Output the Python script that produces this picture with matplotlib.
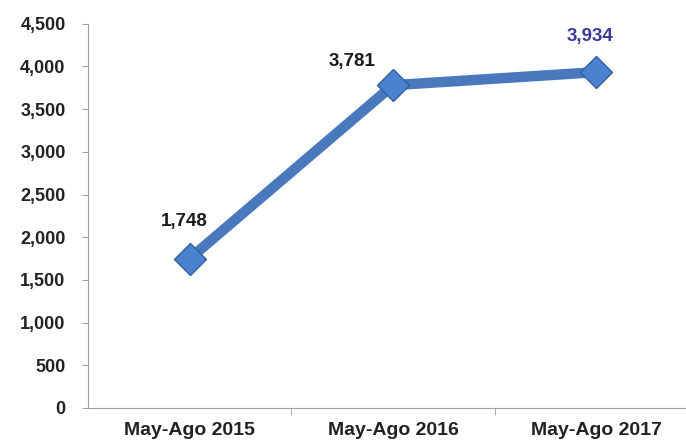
import matplotlib.pyplot as plt
from matplotlib.ticker import FuncFormatter

categories = ["May-Ago 2015", "May-Ago 2016", "May-Ago 2017"]
values = [1748, 3781, 3934]
label_colors = ["#1a1a1a", "#1a1a1a", "#3a3a9a"]
label_offsets = [(-5, 37), (-41, 24), (-6, 36)]

plt.rcParams["font.family"] = ["Liberation Sans", "DejaVu Sans"]

fig = plt.figure(figsize=(6.86, 4.41), dpi=100)
ax = fig.add_axes([0.128, 0.075, 0.872, 0.871])

x = list(range(len(categories)))
ax.plot(x, values, color="#4a78bc", linewidth=7.5, marker="D", markersize=16,
        markerfacecolor="#4a82d0", markeredgecolor="#2f5f9f", markeredgewidth=1,
        solid_capstyle="round", zorder=3)

for xi, v, c, off in zip(x, values, label_colors, label_offsets):
    ax.annotate(f"{v:,}", (xi, v), xytext=off, textcoords="offset pixels",
                ha="center", va="center", fontsize=13.5, fontweight="bold", color=c)

ax.set_xlim(-0.5, 2.44)
ax.set_ylim(0, 4500)
ax.set_yticks(range(0, 4501, 500))
ax.yaxis.set_major_formatter(FuncFormatter(lambda v, p: f"{int(v):,}"))
ax.set_xticks(x)
ax.set_xticklabels(categories)
ax.set_xticks([0.5, 1.5], minor=True)

for s in ["top", "right"]:
    ax.spines[s].set_visible(False)
for s in ["left", "bottom"]:
    ax.spines[s].set_color("#a0a0a0")

ax.tick_params(axis="y", length=4, color="#a0a0a0", labelsize=13, pad=12)
ax.tick_params(axis="x", which="major", length=0, labelsize=14, pad=10)
ax.tick_params(axis="x", which="minor", length=5, color="#a0a0a0")
for lab in ax.get_xticklabels() + ax.get_yticklabels():
    lab.set_fontweight("bold")
    lab.set_color("#222222")

plt.savefig("out.png", dpi=100)
